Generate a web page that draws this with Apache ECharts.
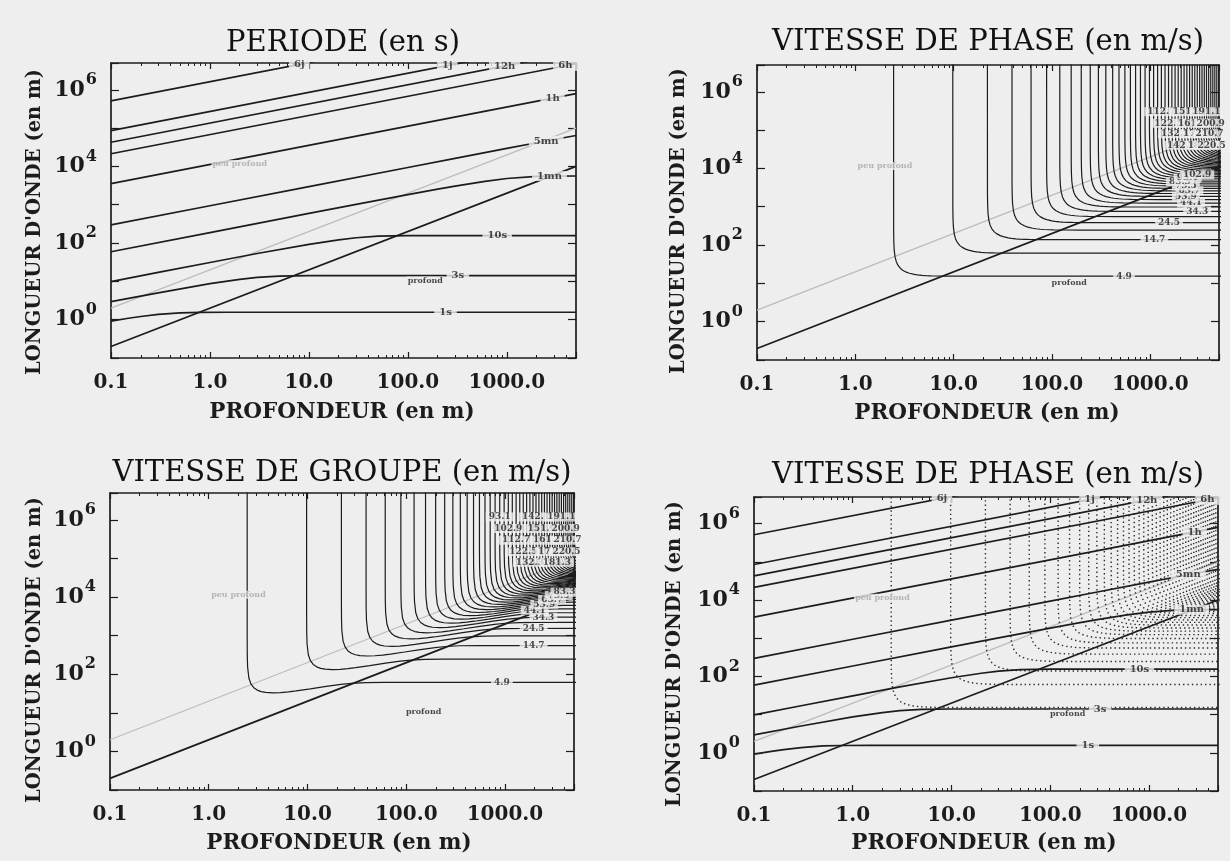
<!DOCTYPE html>
<html><head><meta charset="utf-8">
<script src="https://cdn.jsdelivr.net/npm/echarts@6/dist/echarts.min.js"></script>
<style>html,body{margin:0;padding:0;background:#eeeeee}#c{width:1230px;height:861px}</style>
</head><body><div id="c"></div><script>
// ---- axes ranges and tick labels ----
const depthRange = [0.1, 5000];          // profondeur (m)
const lengthRange = [0.1, 5e6];          // longueur d'onde (m)

// ---- period contours (depth, wavelength) ----
const period1s  = [[0.1,0.92],[0.15,1.09],[0.2,1.21],[0.3,1.37],[0.5,1.513],[0.8,1.555],[1.5,1.561],[5000,1.561]];
const period3s  = [[0.1,2.95],[0.3,5.03],[1,8.69],[2,11.31],[3,12.67],[5,13.76],[10,14.04],[5000,14.05]];
const period10s = [[0.1,9.88],[0.3,17.1],[1,31.1],[3,53.3],[10,92.5],[20,121.2],[30,137.4],[50,151.3],[100,156],[5000,156.1]];
const period1mn = [[0.1,59.4],[1,188],[10,593],[30,1023],[100,1845],[200,2558],[300,3073],[600,4087],[1000,4840],[2000,5503],[3000,5607],[5000,5618]];
const period5mn = [[0.1,297],[1,940],[10,2971],[100,9389],[300,16238],[1000,29490],[2000,41390],[3000,50300],[5000,63950]];
const period1h  = [[0.1,3565],[5000,797000]];
const period6h  = [[0.1,21390],[5000,4.78e6]];
const period12h = [[0.1,42790],[5000,9.57e6]];
const period1j  = [[0.1,85570],[5000,1.913e7]];
const period6j  = [[0.1,513400],[5000,1.148e8]];
const periodLabels = [[240,1.56,'1s'],[320,14.05,'3s'],[800,156,'10s'],[2700,5590,'1mn'],[2500,46000,'5mn'],
  [2900,6.07e5,'1h'],[3900,4.22e6,'6h'],[950,4.17e6,'12h'],[250,4.28e6,'1j'],[8,4.6e6,'6j']];

// ---- deep / shallow limits ----
const deepLimit    = [[0.1,0.2],[5000,10000]];
const shallowLimit = [[0.1,2],[5000,100000]];
const regionDeep    = [[150,10.5,'profond']];
const regionShallow = [[2,11500,'peu profond']];

// ---- velocity contours: shallow-water asymptote depth of each level (m) ----
const levelDepth = [2.45,9.8,22.05,39.2,61.25,88.2,120.05,156.8,198.45,245,296.45,352.8,414.05,480.2,551.25,
  627.2,708.05,793.8,884.45,980,1080.45,1185.8,1296.05,1411.2,1531.25,1656.2,1786.05,1920.8,2060.45,2205,
  2354.45,2508.8,2668.05,2832.2,3001.25,3175.2,3354.05,3537.8,3726.45,3920,4118.45,4321.8,4530.05,4743.2,4961.25];
// contour shape in units of that depth
const phaseShape = [[1,1e7],[1.0013,100],[1.0053,50],[1.015,30],[1.035,20],[1.0656,15],[1.1102,12],[1.1756,10],
  [1.2371,9],[1.3488,8],[1.4486,7.5],[1.6263,7],[1.7486,6.8],[1.9461,6.6],[2.1087,6.5],[2.3873,6.4],[2.649,6.35],
  [3.3176,6.3],[5,6.285],[1e4,6.2832]];
const groupShape = [[1,1e7],[1.0004,314],[1.0024,126],[1.01,63.5],[1.04,32.7],[1.092,22.9],[1.166,18.3],[1.263,15.9],
  [1.387,14.52],[1.539,13.8],[1.824,13.48],[2.182,13.71],[2.618,14.3],[3.131,15.13],[4.365,17.14],[6.312,19.83],
  [8.896,22.36],[11.37,23.82],[15.84,24.88],[24,25.12],[1e4,25.13]];
const phaseLabels = [[540,15.39,'4.9'],[1100,138.5,'14.7'],[1550,384.8,'24.5'],[3000,754,'34.3'],[2600,1247,'44.1'],
  [2300,1863,'53.9'],[2500,2602,'63.7'],[2300,3464,'73.5'],[2000,4485,'83.3'],[2400,5612,'93.1'],[3000,6850,'102.9'],
  [1296,3e5,'112.7'],[1531,1.5e5,'122.5'],[1786,8e4,'132.3'],[2060,4e4,'142.1'],[2354,3e5,'151.9'],[2668,1.5e5,'161.7'],
  [3001,8e4,'171.5'],[3354,4e4,'181.3'],[3726,3e5,'191.1'],[4118,1.5e5,'200.9'],[4000,8e4,'210.7'],[4200,4e4,'220.5']];
const groupLabels = [[930,61.6,'4.9'],[1950,554,'14.7'],[1950,1539,'24.5'],[2450,3017,'34.3'],[2000,4585,'44.1'],
  [2500,6520,'53.9'],[3000,8700,'63.7'],[3500,10960,'73.5'],[4000,13450,'83.3'],
  [884,1.2e6,'93.1'],[1080,6e5,'102.9'],[1296,3e5,'112.7'],[1531,1.5e5,'122.5'],[1786,8e4,'132.3'],
  [2060,1.2e6,'142.1'],[2354,6e5,'151.9'],[2668,3e5,'161.7'],[3001,1.5e5,'171.5'],[3354,8e4,'181.3'],
  [3726,1.2e6,'191.1'],[4118,6e5,'200.9'],[4300,3e5,'210.7'],[4200,1.5e5,'220.5']];

// ---- texts ----
const titles = ['PERIODE (en s)','VITESSE DE PHASE (en m/s)','VITESSE DE GROUPE (en m/s)','VITESSE DE PHASE (en m/s)'];
const xName = 'PROFONDEUR (en m)';
const yName = "LONGUEUR D'ONDE (en m)";

// ---------------- build ----------------
const INK = '#1c1c1c';
const SERIF = '"DejaVu Serif", serif';
const grids = [
  {left:111, top:63, width:465, height:295},
  {left:757, top:65, width:462, height:295},
  {left:110, top:493, width:464, height:297},
  {left:754, top:497, width:464, height:294}
];
const xAxes = [], yAxes = [];
function isDecade(v){ const e = Math.log10(v); return Math.abs(e - Math.round(e)) < 1e-6; }
grids.forEach((g, i) => {
  const xBase = {type:'log', logBase:10, gridIndex:i, min:depthRange[0], max:depthRange[1],
    axisLine:{show:true, onZero:false, lineStyle:{color:INK, width:1.7}},
    axisTick:{show:true, inside:true, length:6, lineStyle:{color:INK, width:1.2}},
    minorTick:{show:true, splitNumber:9, length:3, lineStyle:{color:INK, width:1}},
    splitLine:{show:false}, minorSplitLine:{show:false}};
  xAxes.push(Object.assign({}, xBase, {position:'bottom',
    axisLabel:{show:true, margin:15, fontFamily:SERIF, fontWeight:'bold', fontSize:20, color:INK,
      formatter: v => isDecade(v) ? v.toFixed(1) : ''}}));
  xAxes.push(Object.assign({}, xBase, {position:'top', axisLabel:{show:false}}));
  const yBase = {type:'log', logBase:10, gridIndex:i, min:lengthRange[0], max:lengthRange[1],
    axisLine:{show:true, onZero:false, lineStyle:{color:INK, width:1.7}},
    axisTick:{show:true, inside:true, length:8, lineStyle:{color:INK, width:1.2}},
    splitLine:{show:false}};
  yAxes.push(Object.assign({}, yBase, {position:'left',
    axisLabel:{show:true, margin:14,
      formatter: v => { if (!isDecade(v)) return ''; const e = Math.round(Math.log10(v)); if (e < 0 || e % 2) return ''; return '{b|10}{s|' + e + '}'; },
      rich:{b:{fontFamily:SERIF, fontWeight:'bold', fontSize:22, color:INK, lineHeight:22, verticalAlign:'bottom'},
            s:{fontFamily:SERIF, fontWeight:'bold', fontSize:16, color:INK, lineHeight:16, verticalAlign:'bottom', padding:[0,0,13,1]}}}}));
  yAxes.push(Object.assign({}, yBase, {position:'right', axisLabel:{show:false}}));
});

const series = [];
function addLine(data, g, style, z){
  series.push({type:'line', xAxisIndex:2*g, yAxisIndex:2*g, data:data, symbol:'none', showSymbol:false,
    silent:true, animation:false, clip:true, lineStyle:style, z:z || 2});
}
function addLabels(data, g, color, size, pad){
  series.push({type:'scatter', xAxisIndex:2*g, yAxisIndex:2*g, data:data, symbolSize:1, clip:false,
    itemStyle:{color:'rgba(0,0,0,0)'}, silent:true, animation:false, z:10,
    label:{show:true, position:'inside', formatter: p => p.data[2], fontFamily:SERIF, fontWeight:'bold',
      fontSize:size || 9, color:color, backgroundColor:'#eeeeee', padding:[0, pad || 3]}});
}
function scaled(shape, d){ return shape.map(p => [p[0]*d, p[1]*d]); }

const periodSets = [period1s, period3s, period10s, period1mn, period5mn, period1h, period6h, period12h, period1j, period6j];
const solid = {color:INK, width:1.7};
const thin = {color:INK, width:1.2};
const dotted = {color:'#2a2a2a', width:1.4, type:[1.4,3]};
const grey = {color:'#bcbcbc', width:1.2};

[0,1,2,3].forEach(g => {
  addLine(shallowLimit, g, grey, 1);
  addLine(deepLimit, g, solid, 3);
});
// panel 0: period
periodSets.forEach(d => addLine(d, 0, solid));
addLabels(periodLabels, 0, INK, 10, 5);
// panel 1: phase velocity
levelDepth.forEach(d => addLine(scaled(phaseShape, d), 1, thin));
addLabels(phaseLabels, 1, INK, 9, 3);
// panel 2: group velocity
levelDepth.forEach(d => addLine(scaled(groupShape, d), 2, thin));
addLabels(groupLabels, 2, INK, 9, 3);
// panel 3: period (solid) + phase velocity (dotted)
levelDepth.forEach(d => addLine(scaled(phaseShape, d), 3, dotted, 1));
periodSets.forEach(d => addLine(d, 3, solid));
addLabels(periodLabels, 3, INK, 10, 5);
[0,1,2,3].forEach(g => {
  addLabels(regionDeep, g, INK, 8, 1);
  addLabels(regionShallow, g, '#a6a6a6', 8, 1);
});

// texts
const titlePos = [[343,43],[988,42],[342,473],[988,475]];
const xNamePos = [[342,412],[987,413],[339,843],[984,843]];
const yNamePos = [[35,222],[679,221],[35,650],[675,654]];
const graphic = [];
titles.forEach((t, i) => graphic.push({type:'text', x:titlePos[i][0], y:titlePos[i][1],
  style:{text:t, font:'normal 29px ' + SERIF, fill:'#111', align:'center', verticalAlign:'middle', textAlign:'center', textVerticalAlign:'middle'}}));
xNamePos.forEach(p => graphic.push({type:'text', x:p[0], y:p[1],
  style:{text:xName, font:'bold 21.5px ' + SERIF, fill:INK, align:'center', verticalAlign:'middle', textAlign:'center', textVerticalAlign:'middle'}}));
yNamePos.forEach(p => graphic.push({type:'text', x:p[0], y:p[1], rotation:Math.PI/2,
  style:{text:yName, font:'bold 19.5px ' + SERIF, fill:INK, align:'center', verticalAlign:'middle', textAlign:'center', textVerticalAlign:'middle'}}));

const chart = echarts.init(document.getElementById('c'), null, {renderer:'canvas'});
chart.setOption({backgroundColor:'#eeeeee', animation:false, grid:grids, xAxis:xAxes, yAxis:yAxes, series:series, graphic:graphic});
</script></body></html>
